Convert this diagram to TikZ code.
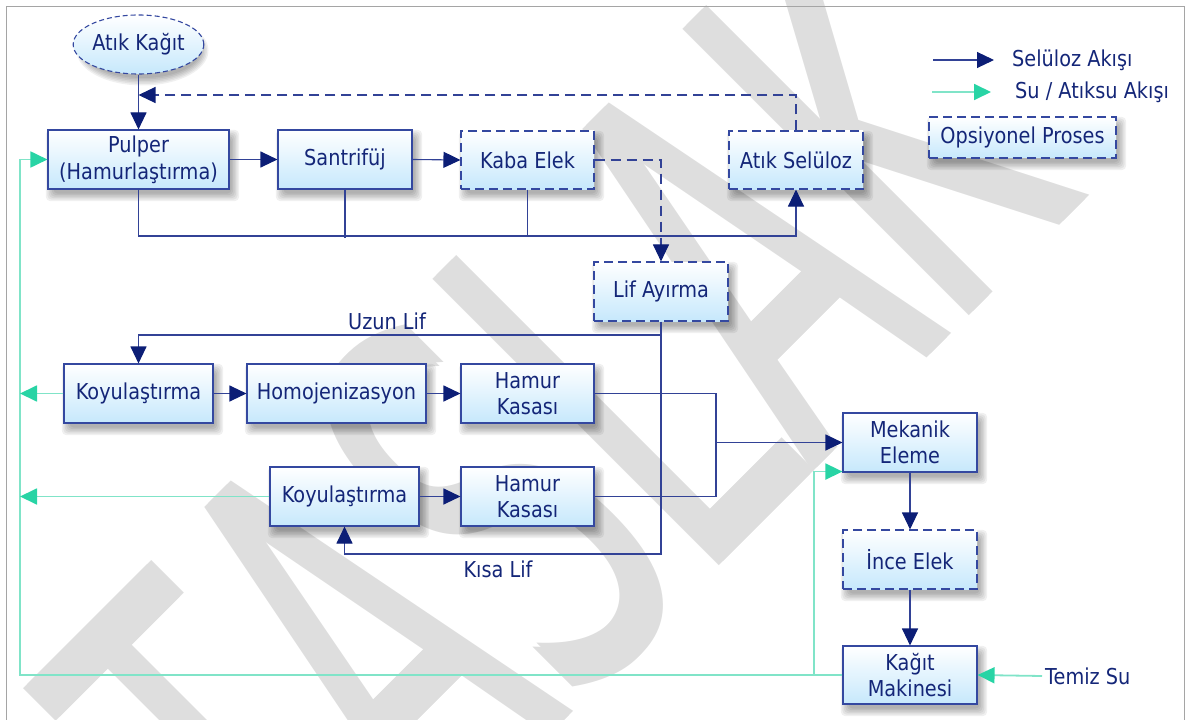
\documentclass[tikz,border=0pt]{standalone}
\usepackage{graphicx}
\usepackage{fontspec}
\setmainfont{DejaVu Sans}[FakeStretch=0.88]
\newfontfamily\wmfont{DejaVu Sans}[Kerning=Off]
\usetikzlibrary{arrows.meta,shapes.geometric}

\definecolor{txt}{RGB}{20,38,120}
\definecolor{boxline}{RGB}{52,72,160}
\definecolor{boxblue}{RGB}{198,232,252}
\definecolor{flow}{RGB}{50,66,150}
\definecolor{head}{RGB}{12,30,118}
\definecolor{water}{RGB}{128,228,200}
\definecolor{waterhead}{RGB}{40,212,165}
\definecolor{wmgrey}{RGB}{222,222,222}
\definecolor{framegrey}{RGB}{165,165,165}

\pgfdeclarelayer{mark}
\pgfdeclarelayer{shade}
\pgfsetlayers{mark,shade,main}

\begin{document}
\begin{tikzpicture}[x=1bp,y=-1bp,
  every node/.style={font=\fontsize{22}{26.7}\selectfont, text=txt, inner sep=0pt},
  box/.style={rectangle, draw=boxline, line width=1.1bp, top color=white, bottom color=boxblue,
    minimum height=59bp, align=center},
  optbox/.style={box, dash pattern=on 9bp off 5bp},
  shadowlayer/.style={black, opacity=0.06, rounded corners=4bp},
  flowline/.style={draw=flow, line width=1.1bp},
  flowarrow/.style={flowline, -{Triangle[length=17bp,width=16bp,color=head]}},
  flowdash/.style={dash pattern=on 10bp off 6bp},
  waterline/.style={draw=water, line width=1.8bp},
  waterarrow/.style={waterline, -{Triangle[length=17bp,width=16bp,color=waterhead]}},
  draftmark/.style={rotate=45, text=wmgrey},
]
\useasboundingbox (0,0) rectangle (1187,720);

% draft watermark (two overlaid copies give heavier stems) and page frame
\begin{pgfonlayer}{mark}
\node[draftmark] (wm) at (555,444)
  {\scalebox{1}[1.95]{\wmfont\fontsize{286}{290}\selectfont\rlap{TASLAK}\hspace{6bp}TASLAK}};
\end{pgfonlayer}
\draw[framegrey, line width=1bp] (6,730) -- (6,7) -- (1184,7) -- (1184,730);

% process blocks
\node[ellipse, draw=boxline, line width=1.1bp, dash pattern=on 5bp off 3bp,
  top color=white, bottom color=boxblue, minimum width=121bp, minimum height=59bp] (ak) at (138.5,44.5) {Atık Kağıt};
\node[box, minimum width=181bp] (pulper) at (138.5,159.5) {Pulper\\(Hamurlaştırma)};
\node[box, minimum width=134bp] (santrifuj) at (345,159.5) {Santrifüj};
\node[optbox, minimum width=133bp, minimum height=58bp] (kaba) at (527.5,160) {Kaba Elek};
\node[optbox, minimum width=134bp, minimum height=58bp] (atiksel) at (796,160) {Atık Selüloz};
\node[optbox, minimum width=134bp] (lif) at (661,291.5) {Lif Ayırma};
\node[box, minimum width=149bp] (koy1) at (138.5,393.5) {Koyulaştırma};
\node[box, minimum width=179bp] (homo) at (336.5,393.5) {Homojenizasyon};
\node[box, minimum width=133bp] (hk1) at (527.5,393.5) {Hamur\\Kasası};
\node[box, minimum width=149bp] (koy2) at (344.5,496.5) {Koyulaştırma};
\node[box, minimum width=133bp] (hk2) at (527.5,496.5) {Hamur\\Kasası};
\node[box, minimum width=134bp] (mek) at (910,442.5) {Mekanik\\Eleme};
\node[optbox, minimum width=134bp] (ince) at (910,559.5) {İnce Elek};
\node[box, minimum width=134bp, minimum height=58bp] (kagit) at (910,675) {Kağıt\\Makinesi};

% labels
\node (uzun) at (387,321) {Uzun Lif};
\node (kisa) at (498,569) {Kısa Lif};
\node[anchor=west] (temiz) at (1045,676) {Temiz Su};

% legend
\coordinate (la1) at (933,60);
\coordinate (lb1) at (994,60);
\coordinate (la2) at (932,92);
\coordinate (lb2) at (991,92);
\draw[flowarrow] (la1) -- (lb1);
\draw[waterarrow] (la2) -- (lb2);
\node[anchor=west] (lg1) at (1012,60) {Selüloz Akışı};
\node[anchor=west] (lg2) at (1015,92) {Su / Atıksu Akışı};
\node[optbox, minimum width=187bp, minimum height=41bp] (opt) at (1022.5,137.5) {Opsiyonel Proses};

% soft drop shadows: stacked translucent outlines growing outward
\begin{pgfonlayer}{shade}
\foreach \n in {pulper,santrifuj,kaba,atiksel,lif,koy1,homo,hk1,koy2,hk2,mek,ince,kagit,opt}
  \foreach \k in {0,...,5} {
    \pgfmathsetmacro\e{1.5*\k-2}
    \fill[shadowlayer] ([shift={(4-\e,6-\e)}]\n.north west) rectangle ([shift={(4+\e,6+\e)}]\n.south east);
  }
\foreach \k in {0,...,5} {
  \pgfmathsetmacro\e{1.5*\k-2}
  \fill[shadowlayer] ([shift={(4,6)}]ak.center) ellipse [x radius=60.5+\e, y radius=29.5+\e];
}
\end{pgfonlayer}

% helper coordinates for routed connectors
\coordinate (fb) at (138.5,95);
\coordinate (cy) at (0,236);
\coordinate (uy) at (0,335);
\coordinate (ky) at (0,554);
\coordinate (mx) at (716,0);
\coordinate (wl) at (20,0);
\coordinate (tb) at (814,676);

% cellulose flow
\draw[flowarrow] (ak.south) -- (pulper.north);
\draw[flowarrow, flowdash] (atiksel.north) |- (fb);
\draw[flowarrow] (pulper.east) -- (santrifuj.west);
\draw[flowarrow] (santrifuj.east) -- (kaba.west);
\draw[flowarrow, flowdash] (kaba.east) -| (lif.north);
\draw[flowarrow] (pulper.south) |- (atiksel.south |- cy) -- (atiksel.south);
\draw[flowline] (santrifuj.south) -- ([yshift=-2bp]santrifuj.south |- cy);
\draw[flowline] (kaba.south) -- (kaba.south |- cy);
\draw[flowarrow] (lif.south) |- (koy2.south |- ky) -- (koy2.south);
\draw[flowarrow] (lif.south |- uy) -| (koy1.north);
\draw[flowarrow] (koy1.east) -- (homo.west);
\draw[flowarrow] (homo.east) -- (hk1.west);
\draw[flowarrow] (koy2.east) -- (hk2.west);
\draw[flowline] (hk1.east) -| (mx |- hk2.east) -- (hk2.east);
\draw[flowarrow] (mx |- mek.west) -- (mek.west);
\draw[flowarrow] (mek.south) -- (ince.north);
\draw[flowarrow] (ince.south) -- (kagit.north);

% water flow
\draw[waterarrow] (kagit.west) -| (wl |- pulper.west) -- (pulper.west);
\draw[waterarrow] (tb) |- ([yshift=1bp]mek.south west);
\draw[waterarrow] (koy1.west) -- (wl |- koy1.west);
\draw[waterarrow] (koy2.west) -- (wl |- koy2.west);
\draw[waterarrow] ([xshift=-3bp]temiz.west) -- (kagit.east);
\end{tikzpicture}
\end{document}
